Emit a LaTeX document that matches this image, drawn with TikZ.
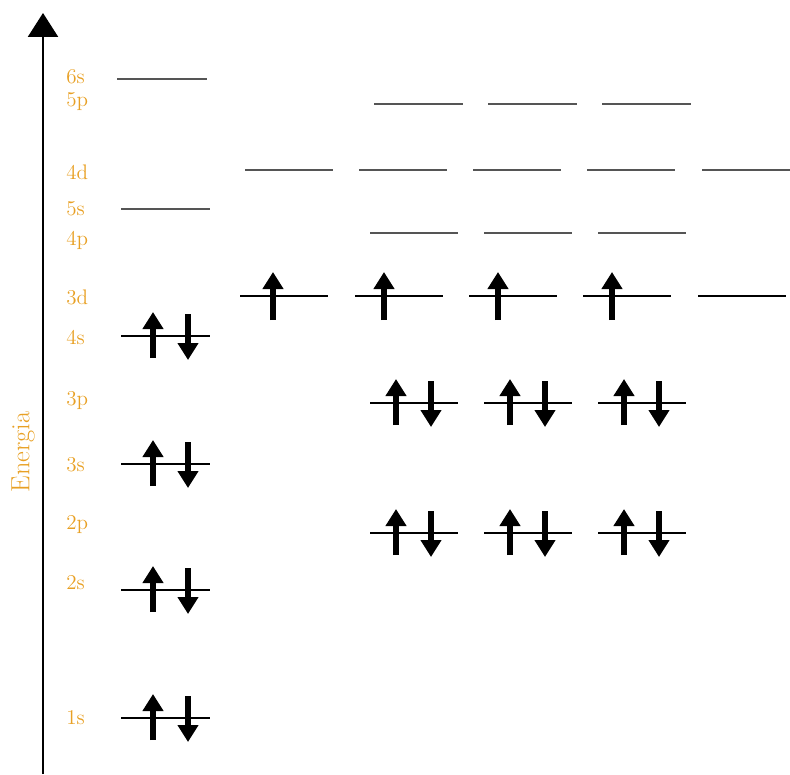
\documentclass[tikz,border=0pt]{standalone}
\usepackage{tikz}
\usetikzlibrary{arrows.meta}
\tikzset{>=latex}
\definecolor{myorange}{RGB}{232, 160, 36}
\definecolor{mygray1}{RGB}{85, 85, 85}

\begin{document}
\begin{tikzpicture}[
    x = 0.02cm, y = -0.02cm,
    lv/.style = {line width = 1.1pt},
    lv0/.style = {line width = 1.1pt, draw = mygray1},
    sp/.style = {line width = 3.3pt, -{Triangle[length = 0.34cm, width = 0.4cm]}},
    lb/.style = {text = myorange, font = \fontsize{12}{12}\selectfont, anchor = west, inner sep = 0pt},
]
\useasboundingbox (0,0) rectangle (790,774);

% energy axis
\draw[line width = 1.4pt, -{Triangle[length = 0.48cm, width = 0.6cm]}] (43,774) -- (43,13);
\node[lb, rotate = 90, anchor = center, font = \fontsize{15}{15}\selectfont] (energia) at (23,452) {Energia};

% level names
\foreach \t/\y in {6s/77, 5p/102, 4d/172, 5s/209, 4p/240, 3d/297, 4s/337, 3p/401, 3s/465, 2p/525, 2s/583, 1s/718}
    \node[lb] (l\t) at (66,\y) {\t};

% empty levels
\draw[lv0] (117,79) -- (207,79);
\draw[lv0] (121,209) -- (210,209);
\foreach \x in {374, 488, 602} \draw[lv0] (\x,104) -- ++(89,0);
\foreach \x in {245, 359, 473, 587, 702} \draw[lv0] (\x,170) -- ++(88,0);
\foreach \x in {370, 484, 598} \draw[lv0] (\x,233) -- ++(88,0);

% s levels, full
\foreach \y in {336, 464, 590, 718} {
    \draw[lv] (121,\y) -- (210,\y);
    \draw[sp] (153,\y+22) -- (153,\y-24);
    \draw[sp] (188,\y-22) -- (188,\y+24);
}

% p levels, full
\foreach \y in {403, 533}
    \foreach \x in {370, 484, 598} {
        \draw[lv] (\x,\y) -- ++(88,0);
        \draw[sp] (\x+26,\y+22) -- (\x+26,\y-24);
        \draw[sp] (\x+61,\y-22) -- (\x+61,\y+24);
    }

% 3d, half full
\foreach \x/\u in {240/273, 355/384, 469/498, 583/612} {
    \draw[lv] (\x,296) -- ++(88,0);
    \draw[sp] (\u,320) -- (\u,272);
}
\draw[lv] (698,296) -- (786,296);
\end{tikzpicture}
\end{document}
